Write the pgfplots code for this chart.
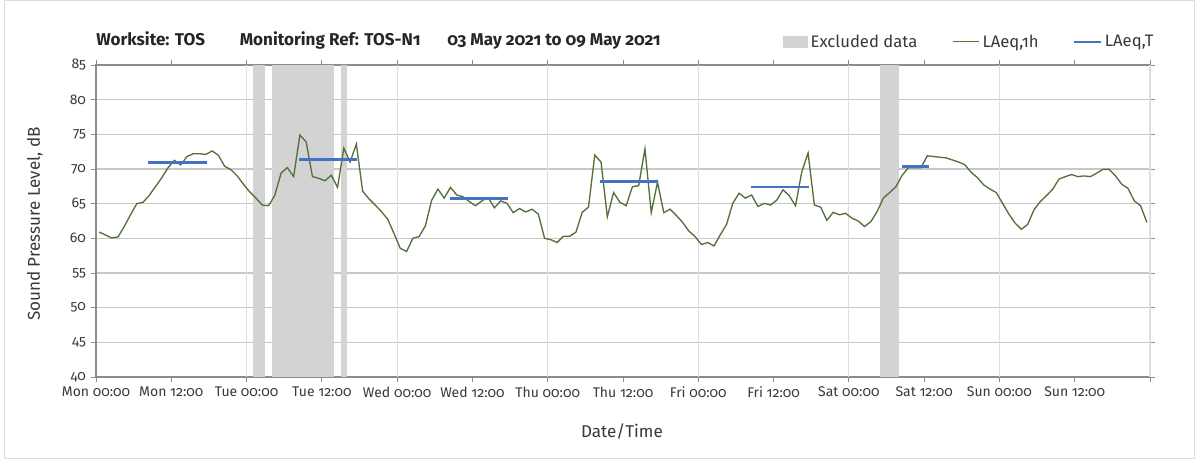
\documentclass[border=0pt]{standalone}
\usepackage{fontspec}
\setmainfont{Fira Sans}[Numbers=OldStyle]
\usepackage{pgfplots}
\pgfplotsset{compat=1.18}
\definecolor{excl}{RGB}{211,211,211}
\definecolor{lgreen}{RGB}{84,112,58}
\definecolor{lblue}{RGB}{68,114,196}
\definecolor{gridc}{RGB}{200,200,200}
\definecolor{vgridc}{RGB}{222,222,222}
\definecolor{axc}{RGB}{140,140,140}
\begin{document}
\begin{tikzpicture}
\path[use as bounding box] (0,0) rectangle (896.25pt,344.25pt);
\draw[vgridc, line width=0.6pt] (3.5pt,0.5pt) rectangle (895.75pt,343.75pt);
\begin{axis}[
  at={(72pt,61.5pt)}, anchor=south west,
  scale only axis, width=790.5pt, height=234pt,
  xmin=0, xmax=168, ymin=40, ymax=85,
  xtick={0,12,...,168},
  xticklabels={Mon 00:00,Mon 12:00,Tue 00:00,Tue 12:00,Wed 00:00,Wed 12:00,Thu 00:00,Thu 12:00,Fri 00:00,Fri 12:00,Sat 00:00,Sat 12:00,Sun 00:00,Sun 12:00,},
  ytick={40,45,...,85},
  /pgf/number format/assume math mode=true,
  ticklabel style={font=\fontsize{10.5}{12}\selectfont, text=black!78},
  tick align=outside, major tick length=4pt,
  tick style={axc, line width=0.6pt},
  axis line style={axc, line width=0.8pt},
  ymajorgrids, major grid style={gridc, line width=1pt},
  extra x ticks={24,48,72,96,120,144,168},
  extra x tick labels={},
  extra x tick style={grid=major, major grid style={vgridc, line width=0.8pt}, major tick length=0pt},
  xlabel={Date/Time}, ylabel={Sound Pressure Level, dB},
  every axis x label/.style={at={(axis description cs:0.499,-0.176)}, anchor=center,
     font=\fontsize{12.8}{15}\selectfont, text=black!78},
  every axis y label/.style={at={(axis description cs:-0.058,0.49)}, rotate=90, anchor=center,
     font=\fontsize{12.8}{15}\selectfont, text=black!78},
  unbounded coords=jump,
  legend columns=3,
  legend style={at={(axis description cs:1.006,1.074)}, anchor=east, draw=none, fill=none, inner sep=0pt,
    font=\fontsize{12.5}{14}\selectfont, text=black!78,
    /tikz/every even column/.append style={column sep=24pt}},
  legend cell align=left,
]
\addplot[fill=excl, draw=none, area legend,
  legend image code/.code={\fill[excl] (0pt,-4.5pt) rectangle (19pt,4.5pt);}]
  coordinates {(25,85) (27,85)} \closedcycle;
\addlegendentry{Excluded data}
\addplot[fill=excl, draw=none, forget plot] coordinates {(28,85) (38,85)} \closedcycle;
\addplot[fill=excl, draw=none, forget plot] coordinates {(39,85) (40,85)} \closedcycle;
\addplot[fill=excl, draw=none, forget plot] coordinates {(125,85) (128,85)} \closedcycle;
\addplot[lgreen, line width=1pt, mark=none,
  legend image code/.code={\draw[lgreen, line width=0.8pt] (0pt,0pt) -- (20pt,0pt);}]
  table[x expr=\thisrowno{0}+0.5, y index=1] {
0 60.9
1 60.5
2 60.05
3 60.2
4 61.7
5 63.4
6 65.0
7 65.2
8 66.2
9 67.5
10 68.75
11 70.2
12 71.25
13 70.6
14 71.8
15 72.2
16 72.2
17 72.1
18 72.6
19 72.0
20 70.4
21 69.9
22 69.0
23 67.8
24 66.7
25 65.8
26 64.8
27 64.7
28 66.2
29 69.4
30 70.2
31 68.9
32 74.9
33 73.9
34 68.9
35 68.65
36 68.3
37 69.1
38 67.35
39 73.0
40 71.0
41 73.6
42 66.8
43 65.7
44 64.8
45 63.85
46 62.75
47 60.7
48 58.55
49 58.1
50 60.0
51 60.25
52 61.8
53 65.5
54 67.1
55 65.8
56 67.35
57 66.25
58 66.0
59 65.3
60 64.7
61 65.4
62 65.9
63 64.4
64 65.4
65 65.05
66 63.7
67 64.3
68 63.8
69 64.2
70 63.5
71 60.0
72 59.8
73 59.4
74 60.3
75 60.3
76 60.9
77 63.75
78 64.5
79 72.0
80 71.0
81 63.1
82 66.6
83 65.2
84 64.7
85 67.45
86 67.6
87 72.9
88 63.7
89 68.1
90 63.7
91 64.2
92 63.3
93 62.3
94 61.05
95 60.25
96 59.1
97 59.4
98 58.9
99 60.5
100 62.0
101 65.05
102 66.5
103 65.8
104 66.25
105 64.6
106 65.05
107 64.8
108 65.5
109 67.0
110 66.15
111 64.7
112 69.6
113 72.3
114 64.8
115 64.5
116 62.6
117 63.75
118 63.4
119 63.6
120 62.9
121 62.5
122 61.7
123 62.4
124 63.85
125 65.8
126 66.6
127 67.45
128 69.1
129 70.2
130 70.2
131 70.2
132 71.9
133 71.8
134 71.7
135 71.6
136 71.3
137 71.0
138 70.6
139 69.5
140 68.75
141 67.7
142 67.1
143 66.6
144 65.05
145 63.5
146 62.2
147 61.3
148 62.0
149 64.1
150 65.3
151 66.15
152 67.1
153 68.55
154 68.9
155 69.2
156 68.9
157 69.0
158 68.9
159 69.4
160 69.95
161 69.95
162 69.0
163 67.8
164 67.2
165 65.4
166 64.7
167 62.3
};
\addlegendentry{LAeq,1h}
\addplot[lblue, line width=2.2pt, mark=none,
  legend image code/.code={\draw[lblue, line width=1.6pt] (0pt,0pt) -- (20pt,0pt);}]
  coordinates {
(8.35,70.9) (17.65,70.9) (20,nan)
(32.35,71.4) (41.65,71.4) (44,nan)
(56.35,65.7) (65.65,65.7) (68,nan)
(80.35,68.2) (89.6,68.2) (92,nan)
(104.4,67.4) (113.6,67.4) (116,nan)
(128.4,70.3) (132.7,70.3)
};
\addlegendentry{LAeq,T}
\end{axis}
\node[anchor=west, inner sep=0pt, font=\bfseries\fontsize{12.8}{14}\selectfont, text=black!85] at (72pt,314.25pt)
  {Worksite: TOS\hspace{26pt}Monitoring Ref: TOS-N1\hspace{20pt}03 May 2021 to 09 May 2021};
\end{tikzpicture}
\end{document}
